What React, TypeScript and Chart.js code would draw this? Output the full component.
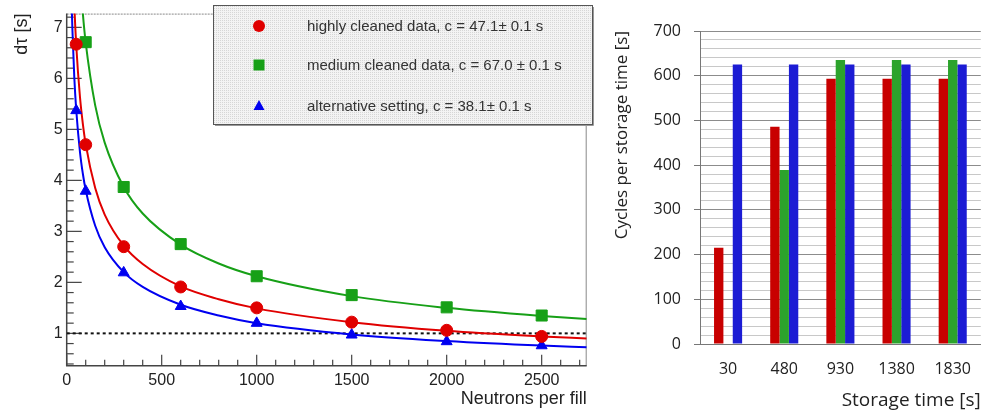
import React, { useEffect, useRef } from 'react';
import { Chart, registerables } from 'chart.js';
Chart.register(...registerables);

// ---------- Left panel data ----------
const neutronsPerFill = [50, 100, 300, 600, 1000, 1500, 2000, 2500];
const highlyCleaned = [6.67, 4.70, 2.70, 1.91, 1.50, 1.22, 1.06, 0.94];
const mediumNeutrons = [100, 300, 600, 1000, 1500, 2000, 2500];
const mediumCleaned = [6.71, 3.87, 2.75, 2.12, 1.75, 1.51, 1.35];
const alternativeSetting = [5.37, 3.79, 2.19, 1.53, 1.20, 0.97, 0.84, 0.76];

// fitted curves
const fitX = [25, 30, 40, 50, 70, 85, 100, 150, 200, 300, 400, 600, 800, 1000, 1500, 2000, 2500, 2737];
const fitHighly = [9.42, 8.60, 7.45, 6.66, 5.63, 5.11, 4.71, 3.85, 3.33, 2.72, 2.36, 1.92, 1.67, 1.49, 1.22, 1.05, 0.94, 0.90];
const fitMedium = [13.4, 12.23, 10.59, 9.48, 8.01, 7.27, 6.70, 5.47, 4.74, 3.87, 3.35, 2.74, 2.37, 2.12, 1.73, 1.50, 1.34, 1.28];
const fitAlternative = [7.62, 6.96, 6.02, 5.39, 4.55, 4.13, 3.81, 3.11, 2.69, 2.20, 1.91, 1.56, 1.35, 1.20, 0.98, 0.85, 0.76, 0.73];

const referenceLevel = 1;
const xRange = [0, 2737];
const yRange = [0.366, 7.27];
const yTickValues = [1, 2, 3, 4, 5, 6, 7];
const xTickValues = [0, 500, 1000, 1500, 2000, 2500];

const legendLabels = [
  'highly cleaned data, c = 47.1\u00b1 0.1 s',
  'medium cleaned data, c = 67.0 \u00b1 0.1 s',
  'alternative setting, c = 38.1\u00b1 0.1 s',
];

// ---------- Right panel data ----------
const storageTimes = ['30', '480', '930', '1380', '1830'];
const cyclesRed = [215, 486, 593, 593, 593];
const cyclesGreen = [null, 389, 635, 635, 635];
const cyclesBlue = [625, 625, 625, 625, 625];
const cycleGridValues = Array.from({ length: 36 }, (_, i) => i * 20);

const RED = '#e00000';
const GREEN = '#17a017';
const BLUE = '#0000f0';

const pts = (xs: number[], ys: number[]) => xs.map((x, i) => ({ x, y: ys[i] }));

const rootFramePlugin = {
  id: 'rootFrame',
  beforeDatasetsDraw(chart: any) {
    const { ctx, chartArea: a, scales } = chart;
    const x = scales.x, y = scales.y;
    ctx.save();
    ctx.strokeStyle = '#888';
    ctx.lineWidth = 1;
    ctx.setLineDash([2, 1]);
    ctx.beginPath();
    ctx.moveTo(a.left, a.top + 0.5);
    ctx.lineTo(a.right, a.top + 0.5);
    ctx.stroke();
    ctx.setLineDash([]);
    ctx.beginPath();
    ctx.moveTo(a.right - 0.5, a.top);
    ctx.lineTo(a.right - 0.5, a.bottom);
    ctx.stroke();
    ctx.strokeStyle = '#444';
    ctx.lineWidth = 1.5;
    ctx.beginPath();
    ctx.moveTo(a.left, a.top);
    ctx.lineTo(a.left, a.bottom);
    ctx.lineTo(a.right, a.bottom);
    ctx.stroke();
    ctx.lineWidth = 1.2;
    for (let v = 0.4; v <= yRange[1] + 1e-6; v += 0.2) {
      const r = Math.round(v * 10) / 10;
      const py = y.getPixelForValue(r);
      if (py < a.top || py > a.bottom) continue;
      const major = Math.abs(r - Math.round(r)) < 1e-6;
      ctx.beginPath();
      ctx.moveTo(a.left, py);
      ctx.lineTo(a.left + (major ? 15 : 7), py);
      ctx.stroke();
    }
    for (let v = 0; v <= xRange[1]; v += 100) {
      const px = x.getPixelForValue(v);
      const major = v % 500 === 0;
      ctx.beginPath();
      ctx.moveTo(px, a.bottom);
      ctx.lineTo(px, a.bottom - (major ? 11 : 6));
      ctx.stroke();
    }
    ctx.restore();
  },
  afterDraw(chart: any) {
    const { ctx } = chart;
    ctx.save();
    const bx = 213, by = 5, bw = 379, bh = 119;
    const pc = document.createElement('canvas');
    pc.width = 2; pc.height = 2;
    const pctx = pc.getContext('2d')!;
    pctx.fillStyle = '#f3f3f3';
    pctx.fillRect(0, 0, 2, 2);
    pctx.fillStyle = '#d6d6d6';
    pctx.fillRect(0, 0, 1, 1);
    ctx.fillStyle = ctx.createPattern(pc, 'repeat');
    ctx.fillRect(bx, by, bw, bh);
    ctx.strokeStyle = '#555';
    ctx.lineWidth = 1;
    ctx.strokeRect(bx + 0.5, by + 0.5, bw, bh);
    ctx.strokeStyle = '#999';
    ctx.beginPath();
    ctx.moveTo(bx + 2, by + bh + 1.5);
    ctx.lineTo(bx + bw + 1.5, by + bh + 1.5);
    ctx.lineTo(bx + bw + 1.5, by + 2);
    ctx.stroke();

    const rows = [26, 65, 106];
    const mx = 259;
    ctx.fillStyle = RED;
    ctx.beginPath();
    ctx.arc(mx, rows[0], 6, 0, Math.PI * 2);
    ctx.fill();
    ctx.fillStyle = GREEN;
    ctx.fillRect(mx - 5.5, rows[1] - 5.5, 11, 11);
    ctx.fillStyle = BLUE;
    ctx.beginPath();
    ctx.moveTo(mx, rows[2] - 6);
    ctx.lineTo(mx + 5.5, rows[2] + 4);
    ctx.lineTo(mx - 5.5, rows[2] + 4);
    ctx.closePath();
    ctx.fill();

    ctx.fillStyle = '#333';
    ctx.font = '15px "Liberation Sans", Arial, sans-serif';
    ctx.textBaseline = 'middle';
    ctx.textAlign = 'left';
    legendLabels.forEach((t, i) => ctx.fillText(t, 307, rows[i] + 1));
    ctx.restore();
  },
};

function LeftChart() {
  const ref = useRef<HTMLCanvasElement>(null);
  useEffect(() => {
    const font = '"Liberation Sans", Arial, sans-serif';
    const chart = new Chart(ref.current!, {
      type: 'scatter',
      data: {
        datasets: [
          { label: 'highly', data: pts(neutronsPerFill, highlyCleaned), pointStyle: 'circle', pointRadius: 6, backgroundColor: RED, borderColor: RED, showLine: false },
          { label: 'medium', data: pts(mediumNeutrons, mediumCleaned), pointStyle: 'rect', pointRadius: 7.8, backgroundColor: GREEN, borderColor: GREEN, showLine: false },
          { label: 'alternative', data: pts(neutronsPerFill, alternativeSetting), pointStyle: 'triangle', pointRadius: 6.3, backgroundColor: BLUE, borderColor: BLUE, showLine: false },
          { label: 'fitH', data: pts(fitX, fitHighly), showLine: true, pointRadius: 0, borderColor: RED, borderWidth: 2, cubicInterpolationMode: 'monotone' },
          { label: 'fitM', data: pts(fitX, fitMedium), showLine: true, pointRadius: 0, borderColor: GREEN, borderWidth: 2, cubicInterpolationMode: 'monotone' },
          { label: 'fitA', data: pts(fitX, fitAlternative), showLine: true, pointRadius: 0, borderColor: BLUE, borderWidth: 2, cubicInterpolationMode: 'monotone' },
          { label: 'ref', data: [{ x: xRange[0], y: referenceLevel }, { x: xRange[1], y: referenceLevel }], showLine: true, pointRadius: 0, borderColor: '#111', borderWidth: 2, borderDash: [3, 3] },
        ] as any,
      },
      options: {
        animation: false,
        responsive: false,
        events: [],
        layout: { padding: { top: 12.7, right: 18.3, left: 0, bottom: 0 } },
        plugins: { legend: { display: false }, tooltip: { enabled: false } },
        scales: {
          x: {
            type: 'linear', min: xRange[0], max: xRange[1],
            afterBuildTicks: (s: any) => { s.ticks = xTickValues.map((v) => ({ value: v })); },
            afterFit: (s: any) => { s.height = 48.3; },
            grid: { display: false, drawTicks: false },
            border: { display: false },
            ticks: { padding: 5, color: '#222', font: { family: font, size: 16 }, maxRotation: 0, autoSkip: false, callback: (v: any) => String(v) },
            title: { display: true, text: 'Neutrons per fill', align: 'end', color: '#222', font: { family: font, size: 18 }, padding: { top: 0, bottom: 4 } },
          },
          y: {
            type: 'linear', min: yRange[0], max: yRange[1],
            afterBuildTicks: (s: any) => { s.ticks = yTickValues.map((v) => ({ value: v })); },
            afterFit: (s: any) => { s.width = 66.7; },
            grid: { display: false, drawTicks: false },
            border: { display: false },
            ticks: { padding: 4, color: '#222', font: { family: font, size: 16 }, autoSkip: false, callback: (v: any) => String(v) },
            title: { display: true, text: 'd\u03c4 [s]', align: 'end', color: '#222', font: { family: font, size: 18 }, padding: { top: 11, bottom: 0 } },
          },
        },
      } as any,
      plugins: [rootFramePlugin],
    });
    return () => chart.destroy();
  }, []);
  return <canvas ref={ref} width={605} height={414} style={{ position: 'absolute', left: 0, top: 0, width: 605, height: 414 }} />;
}

function RightChart() {
  const ref = useRef<HTMLCanvasElement>(null);
  useEffect(() => {
    const font = '"Open Sans", sans-serif';
    const chart = new Chart(ref.current!, {
      type: 'bar',
      data: {
        labels: storageTimes,
        datasets: [
          { label: 'red', data: cyclesRed, backgroundColor: '#c80000' },
          { label: 'green', data: cyclesGreen, backgroundColor: '#2ca32c' },
          { label: 'blue', data: cyclesBlue, backgroundColor: '#1c1cd4' },
        ] as any,
      },
      options: {
        animation: false,
        responsive: false,
        events: [],
        layout: { padding: { top: 31, right: 0, left: 0, bottom: 0 } },
        plugins: { legend: { display: false }, tooltip: { enabled: false } },
        datasets: { bar: { categoryPercentage: 0.5, barPercentage: 1.0 } },
        scales: {
          x: {
            afterFit: (s: any) => { s.height = 70; },
            grid: { display: false, drawTicks: false },
            border: { display: true, color: '#777', width: 1 },
            ticks: { padding: 16, color: '#222', font: { family: font, size: 16 }, maxRotation: 0, autoSkip: false },
            title: { display: true, text: 'Storage time [s]', align: 'end', color: '#222', font: { family: font, size: 19 }, padding: { top: 0, bottom: 2 } },
          },
          y: {
            min: 0, max: 700,
            afterBuildTicks: (s: any) => { s.ticks = cycleGridValues.map((v) => ({ value: v })); },
            afterFit: (s: any) => { s.width = 95; },
            ticks: { padding: 13, color: '#222', font: { family: font, size: 16 }, autoSkip: false, callback: (v: any) => (v % 100 === 0 ? String(v) : '') },
            grid: {
              color: (c: any) => (c.tick && c.tick.value % 100 === 0 ? '#8c8c8c' : '#c8c8c8'),
              tickColor: (c: any) => (c.tick && c.tick.value % 100 === 0 ? '#777' : 'rgba(0,0,0,0)'),
              tickLength: 6,
            },
            border: { display: true, color: '#777', width: 1 },
            title: { display: true, text: 'Cycles per storage time [s]', align: 'end', color: '#222', font: { family: font, size: 17 }, padding: { top: 7, bottom: 0 } },
          },
        },
      } as any,
    });
    return () => chart.destroy();
  }, []);
  return <canvas ref={ref} width={382} height={414} style={{ position: 'absolute', left: 605, top: 0, width: 382, height: 414 }} />;
}

export default function App() {
  return (
    <div style={{ position: 'fixed', left: 0, top: 0, width: 987, height: 414, background: '#fff', overflow: 'hidden' }}>
      <LeftChart />
      <RightChart />
    </div>
  );
}
